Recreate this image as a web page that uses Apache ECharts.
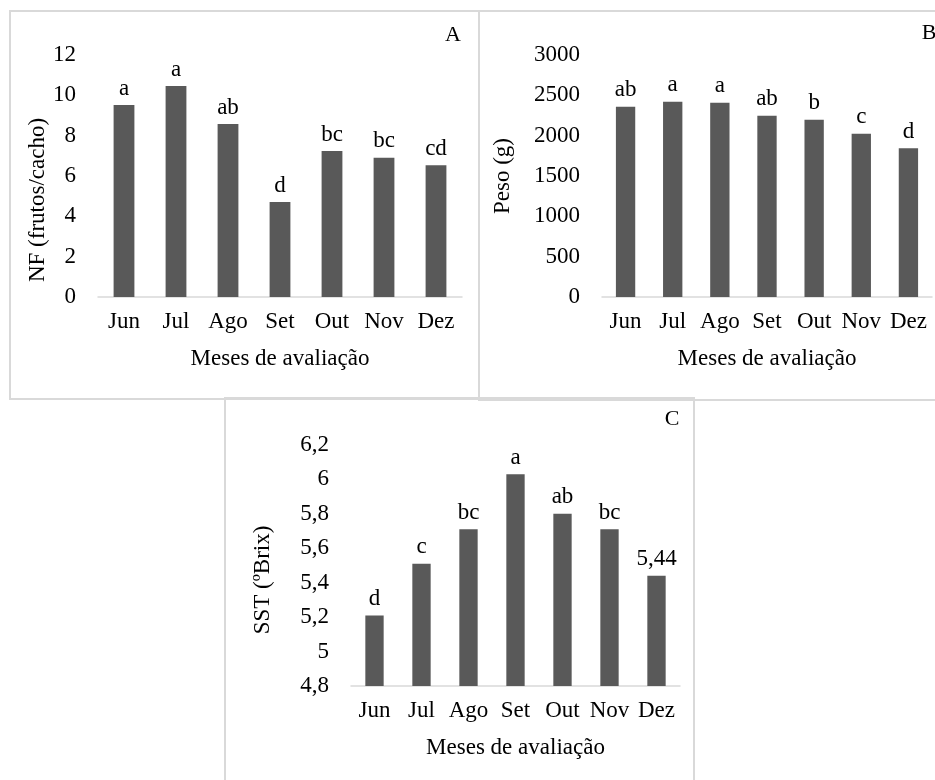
<!DOCTYPE html>
<html>
<head>
<meta charset="utf-8">
<script src="https://cdn.jsdelivr.net/npm/echarts@6/dist/echarts.min.js"></script>
<style>html,body{margin:0;padding:0;background:#fff;}#c{width:935px;height:780px;}</style>
</head>
<body>
<div id="c"></div>
<script>
const months = ['Jun','Jul','Ago','Set','Out','Nov','Dez'];
const nfValues = [9.52, 10.46, 8.58, 4.71, 7.24, 6.91, 6.53];
const nfLetters = ['a','a','ab','d','bc','bc','cd'];
const pesoValues = [2359, 2421, 2409, 2248, 2198, 2025, 1843];
const pesoLetters = ['ab','a','a','ab','b','c','d'];
const sstValues = [5.21, 5.51, 5.71, 6.03, 5.80, 5.71, 5.44];
const sstLetters = ['d','c','bc','a','ab','bc','5,44'];
const xName = 'Meses de avaliação';

const FONT = 'Liberation Serif';
const FS = 23;
const BAR = '#595959';
const AX = '#d9d9d9';

const chart = echarts.init(document.getElementById('c'));

function xAxis(gi) {
  return {
    type: 'category', gridIndex: gi, data: months,
    axisLine: {lineStyle: {color: AX, width: 1.5}},
    axisTick: {show: false},
    axisLabel: {color: '#000', fontFamily: FONT, fontSize: FS, margin: 13, interval: 0, hideOverlap: false},
    name: xName, nameLocation: 'middle', nameGap: 50,
    nameTextStyle: {color: '#000', fontFamily: FONT, fontSize: FS}
  };
}
function yAxis(gi, min, max, interval, name, gap, pad, fmt) {
  return {
    type: 'value', gridIndex: gi, min: min, max: max, interval: interval,
    splitLine: {show: false}, axisLine: {show: false}, axisTick: {show: false},
    axisLabel: {color: '#000', fontFamily: FONT, fontSize: FS, margin: 22, formatter: fmt},
    name: name, nameLocation: 'middle', nameGap: gap, nameRotate: 90,
    nameTextStyle: {color: '#000', fontFamily: FONT, fontSize: FS, padding: [0, pad, 0, 0]}
  };
}
function bars(gi, values, letters, width) {
  return {
    type: 'bar', xAxisIndex: gi, yAxisIndex: gi, data: values, barWidth: width,
    itemStyle: {color: BAR},
    label: {show: true, position: 'top', distance: 5, color: '#000', fontFamily: FONT, fontSize: FS,
      formatter: p => letters[p.dataIndex]}
  };
}

const option = {
  animation: false,
  backgroundColor: '#fff',
  grid: [
    {left: 98, width: 364, top: 55, height: 242},
    {left: 602, width: 330, top: 55, height: 242},
    {left: 351, width: 329, top: 445, height: 241}
  ],
  xAxis: [xAxis(0), xAxis(1), xAxis(2)],
  yAxis: [
    yAxis(0, 0, 12, 2, 'NF (frutos/cacho)', 46, 48, v => String(v)),
    yAxis(1, 0, 3000, 500, 'Peso (g)', 88, 0, v => String(v)),
    yAxis(2, 4.8, 6.2, 0.2, 'SST (ºBrix)', 77, 29, v => (Math.round(v * 10) / 10).toString().replace('.', ','))
  ],
  series: [
    bars(0, nfValues, nfLetters, '40%'),
    bars(1, pesoValues, pesoLetters, '41%'),
    bars(2, sstValues, sstLetters, '39%')
  ],
  graphic: [
    {type: 'rect', shape: {x: 10, y: 11, width: 469, height: 388}, style: {fill: 'none', stroke: AX, lineWidth: 2}, silent: true},
    {type: 'rect', shape: {x: 479, y: 11, width: 470, height: 389}, style: {fill: 'none', stroke: AX, lineWidth: 2}, silent: true},
    {type: 'rect', shape: {x: 225, y: 398, width: 469, height: 400}, style: {fill: 'none', stroke: AX, lineWidth: 2}, silent: true},
    {type: 'text', x: 453, y: 35, style: {text: 'A', fontFamily: FONT, fontSize: 22, fill: '#000', align: 'center', verticalAlign: 'middle'}},
    {type: 'text', x: 929, y: 33, style: {text: 'B', fontFamily: FONT, fontSize: 22, fill: '#000', align: 'center', verticalAlign: 'middle'}},
    {type: 'text', x: 672, y: 419, style: {text: 'C', fontFamily: FONT, fontSize: 22, fill: '#000', align: 'center', verticalAlign: 'middle'}}
  ]
};
chart.setOption(option);
</script>
</body>
</html>
